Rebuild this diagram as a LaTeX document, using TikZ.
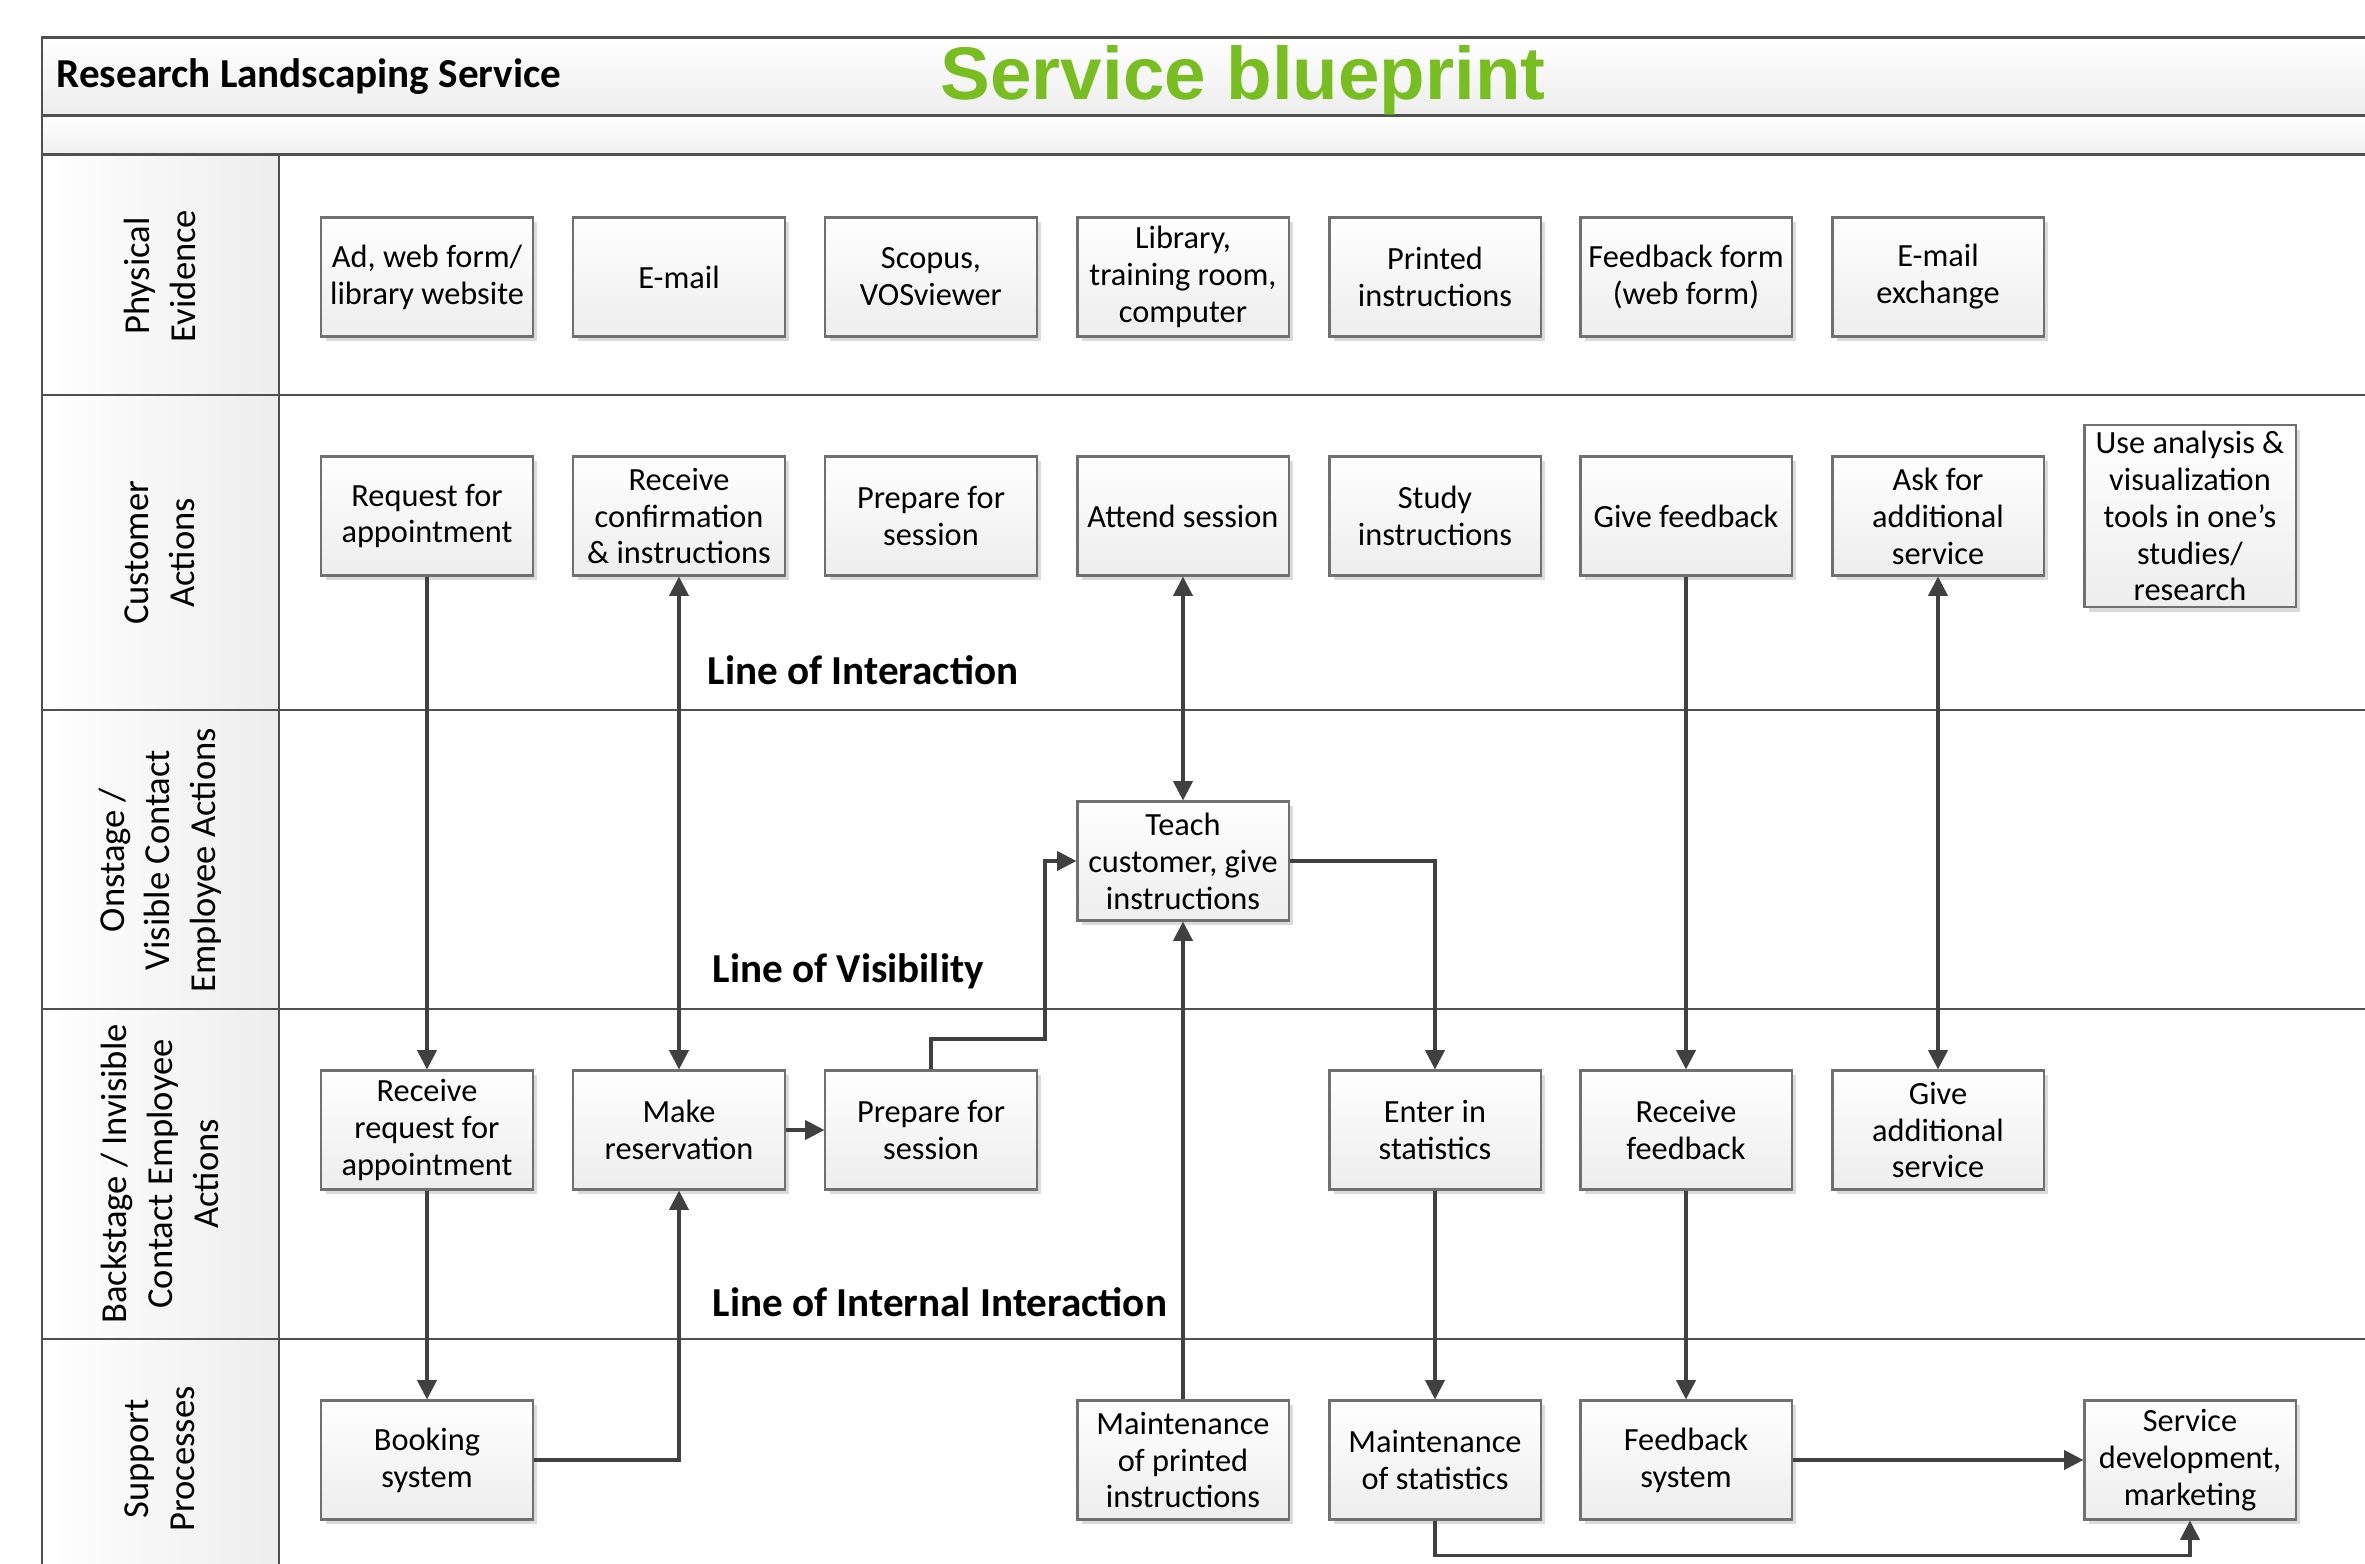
\documentclass[tikz,border=0pt]{standalone}
\usepackage{fontspec}
\setmainfont{Carlito}
\newfontfamily\bpfont{Liberation Sans}
\usetikzlibrary{arrows.meta,shadows}
\definecolor{bpgreen}{RGB}{120,190,32}
\definecolor{linegray}{RGB}{64,64,64}
\definecolor{framegray}{RGB}{80,80,80}
\definecolor{boxgray}{RGB}{112,112,112}
\tikzset{
  box/.style={draw=boxgray,line width=0.6pt,top color=white,bottom color=black!7,
    minimum width=2.11cm,minimum height=1.19cm,inner sep=1pt,align=center,
    font=\fontsize{9.2}{10.5}\selectfont,
    drop shadow={shadow xshift=1.3pt,shadow yshift=-1.3pt,fill=black!14,opacity=1}},
  lanelabel/.style={rotate=90,align=center,font=\fontsize{10.4}{13}\selectfont},
  linelabel/.style={anchor=base west,inner sep=0pt,font=\fontsize{11.7}{14}\selectfont\bfseries},
  frame/.style={draw=framegray,line width=0.85pt},
  arr/.style={draw=linegray,line width=0.9pt,-{Triangle[length=5.5pt,width=5.5pt]}},
  darr/.style={draw=linegray,line width=0.9pt,{Triangle[length=5.5pt,width=5.5pt]}-{Triangle[length=5.5pt,width=5.5pt]}}
}
\begin{document}
\begin{tikzpicture}[x=0.01cm,y=-0.01cm]
    \useasboundingbox (0,0) rectangle (2365,1564);
    \fill[top color=white,bottom color=black!7] (42,38) rectangle (2365,116);%title band
    \fill[top color=white,bottom color=black!6] (42,116) rectangle (2365,155);
    \fill[left color=white,right color=black!7] (42,155) rectangle (279,1564);%lane label column
    \draw[frame] (2365,38) -- (42,38) -- (42,1564);
    \draw[frame] (279,155) -- (279,1564);
    \draw[frame] (42,116) -- (2365,116);
    \foreach \ly in {155,395,710,1009,1339}
        \draw[frame] (42,\ly) -- (2365,\ly);%lane lines

    \node[linelabel] (rls) at (56,88) {Research Landscaping Service};
    \node[anchor=base west,inner sep=0pt,text=bpgreen,font=\fontsize{21.2}{24}\selectfont\bpfont\bfseries] (bptitle) at (940,100) {Service blueprint};

    \node[lanelabel] (lpe) at (160,276) {Physical\\Evidence};
    \node[lanelabel] (lca) at (160,553) {Customer\\Actions};
    \node[lanelabel] (lon) at (160,860) {Onstage /\\Visible Contact\\Employee Actions};
    \node[lanelabel] (lbs) at (160,1174) {Backstage / Invisible\\Contact Employee\\Actions};
    \node[lanelabel] (lsp) at (160,1459) {Support\\Processes};

    \node[linelabel] (loi) at (707,685) {Line of Interaction};
    \node[linelabel] (lov) at (712,982) {Line of Visibility};
    \node[linelabel] (lii) at (712,1317) {Line of Internal Interaction};

    % physical evidence
    \node[box] (pe1) at (427,277) {Ad, web form/\\library website};
    \node[box] (pe2) at (679,277) {E-mail};
    \node[box] (pe3) at (931,277) {Scopus,\\VOSviewer};
    \node[box] (pe4) at (1183,277) {Library,\\training room,\\computer};
    \node[box] (pe5) at (1435,277) {Printed\\instructions};
    \node[box] (pe6) at (1686,277) {Feedback form\\(web form)};
    \node[box] (pe7) at (1938,277) {E-mail\\exchange};

    % customer actions
    \node[box] (reqapp) at (427,516) {Request for\\appointment};
    \node[box] (recconf) at (679,516) {Receive\\confirmation\\\& instructions};
    \node[box] (prepsess) at (931,516) {Prepare for\\session};
    \node[box] (attend) at (1183,516) {Attend session};
    \node[box] (study) at (1435,516) {Study\\instructions};
    \node[box] (givefb) at (1686,516) {Give feedback};
    \node[box] (askadd) at (1938,516) {Ask for\\additional\\service};
    \node[box,minimum height=1.82cm] (useana) at (2190,516) {Use analysis \&\\visualization\\tools in one's\\studies/\\research};

    % onstage
    \node[box] (teach) at (1183,861) {Teach\\customer, give\\instructions};

    % backstage
    \node[box] (recreq) at (427,1130) {Receive\\request for\\appointment};
    \node[box] (makeres) at (679,1130) {Make\\reservation};
    \node[box] (prepbs) at (931,1130) {Prepare for\\session};
    \node[box] (enterst) at (1435,1130) {Enter in\\statistics};
    \node[box] (recfb) at (1686,1130) {Receive\\feedback};
    \node[box] (giveadd) at (1938,1130) {Give\\additional\\service};

    % support
    \node[box] (booking) at (427,1460) {Booking\\system};
    \node[box] (maintpr) at (1183,1460) {Maintenance\\of printed\\instructions};
    \node[box] (maintst) at (1435,1460) {Maintenance\\of statistics};
    \node[box] (fbsys) at (1686,1460) {Feedback\\system};
    \node[box] (servdev) at (2190,1460) {Service\\development,\\marketing};

    \coordinate (bend) at (1045,1039);%kink above prepare for session

    \draw[arr] (reqapp) -- (recreq);
    \draw[arr] (recreq) -- (booking);
    \draw[arr] (booking.east) -| (makeres.south);
    \draw[darr] (recconf) -- (makeres);
    \draw[arr] (makeres) -- (prepbs);
    \draw[arr] (prepbs.north) |- (bend) |- (teach.west);
    \draw[darr] (attend) -- (teach);
    \draw[arr] (maintpr) -- (teach);
    \draw[arr] (teach.east) -| (enterst.north);
    \draw[arr] (enterst) -- (maintst);
    \draw[arr] (givefb) -- (recfb);
    \draw[arr] (recfb) -- (fbsys);
    \draw[darr] (askadd) -- (giveadd);
    \draw[arr] (fbsys) -- (servdev);
    \draw[arr] (maintst.south) -- ++(0,35) -| (servdev.south);
\end{tikzpicture}
\end{document}
